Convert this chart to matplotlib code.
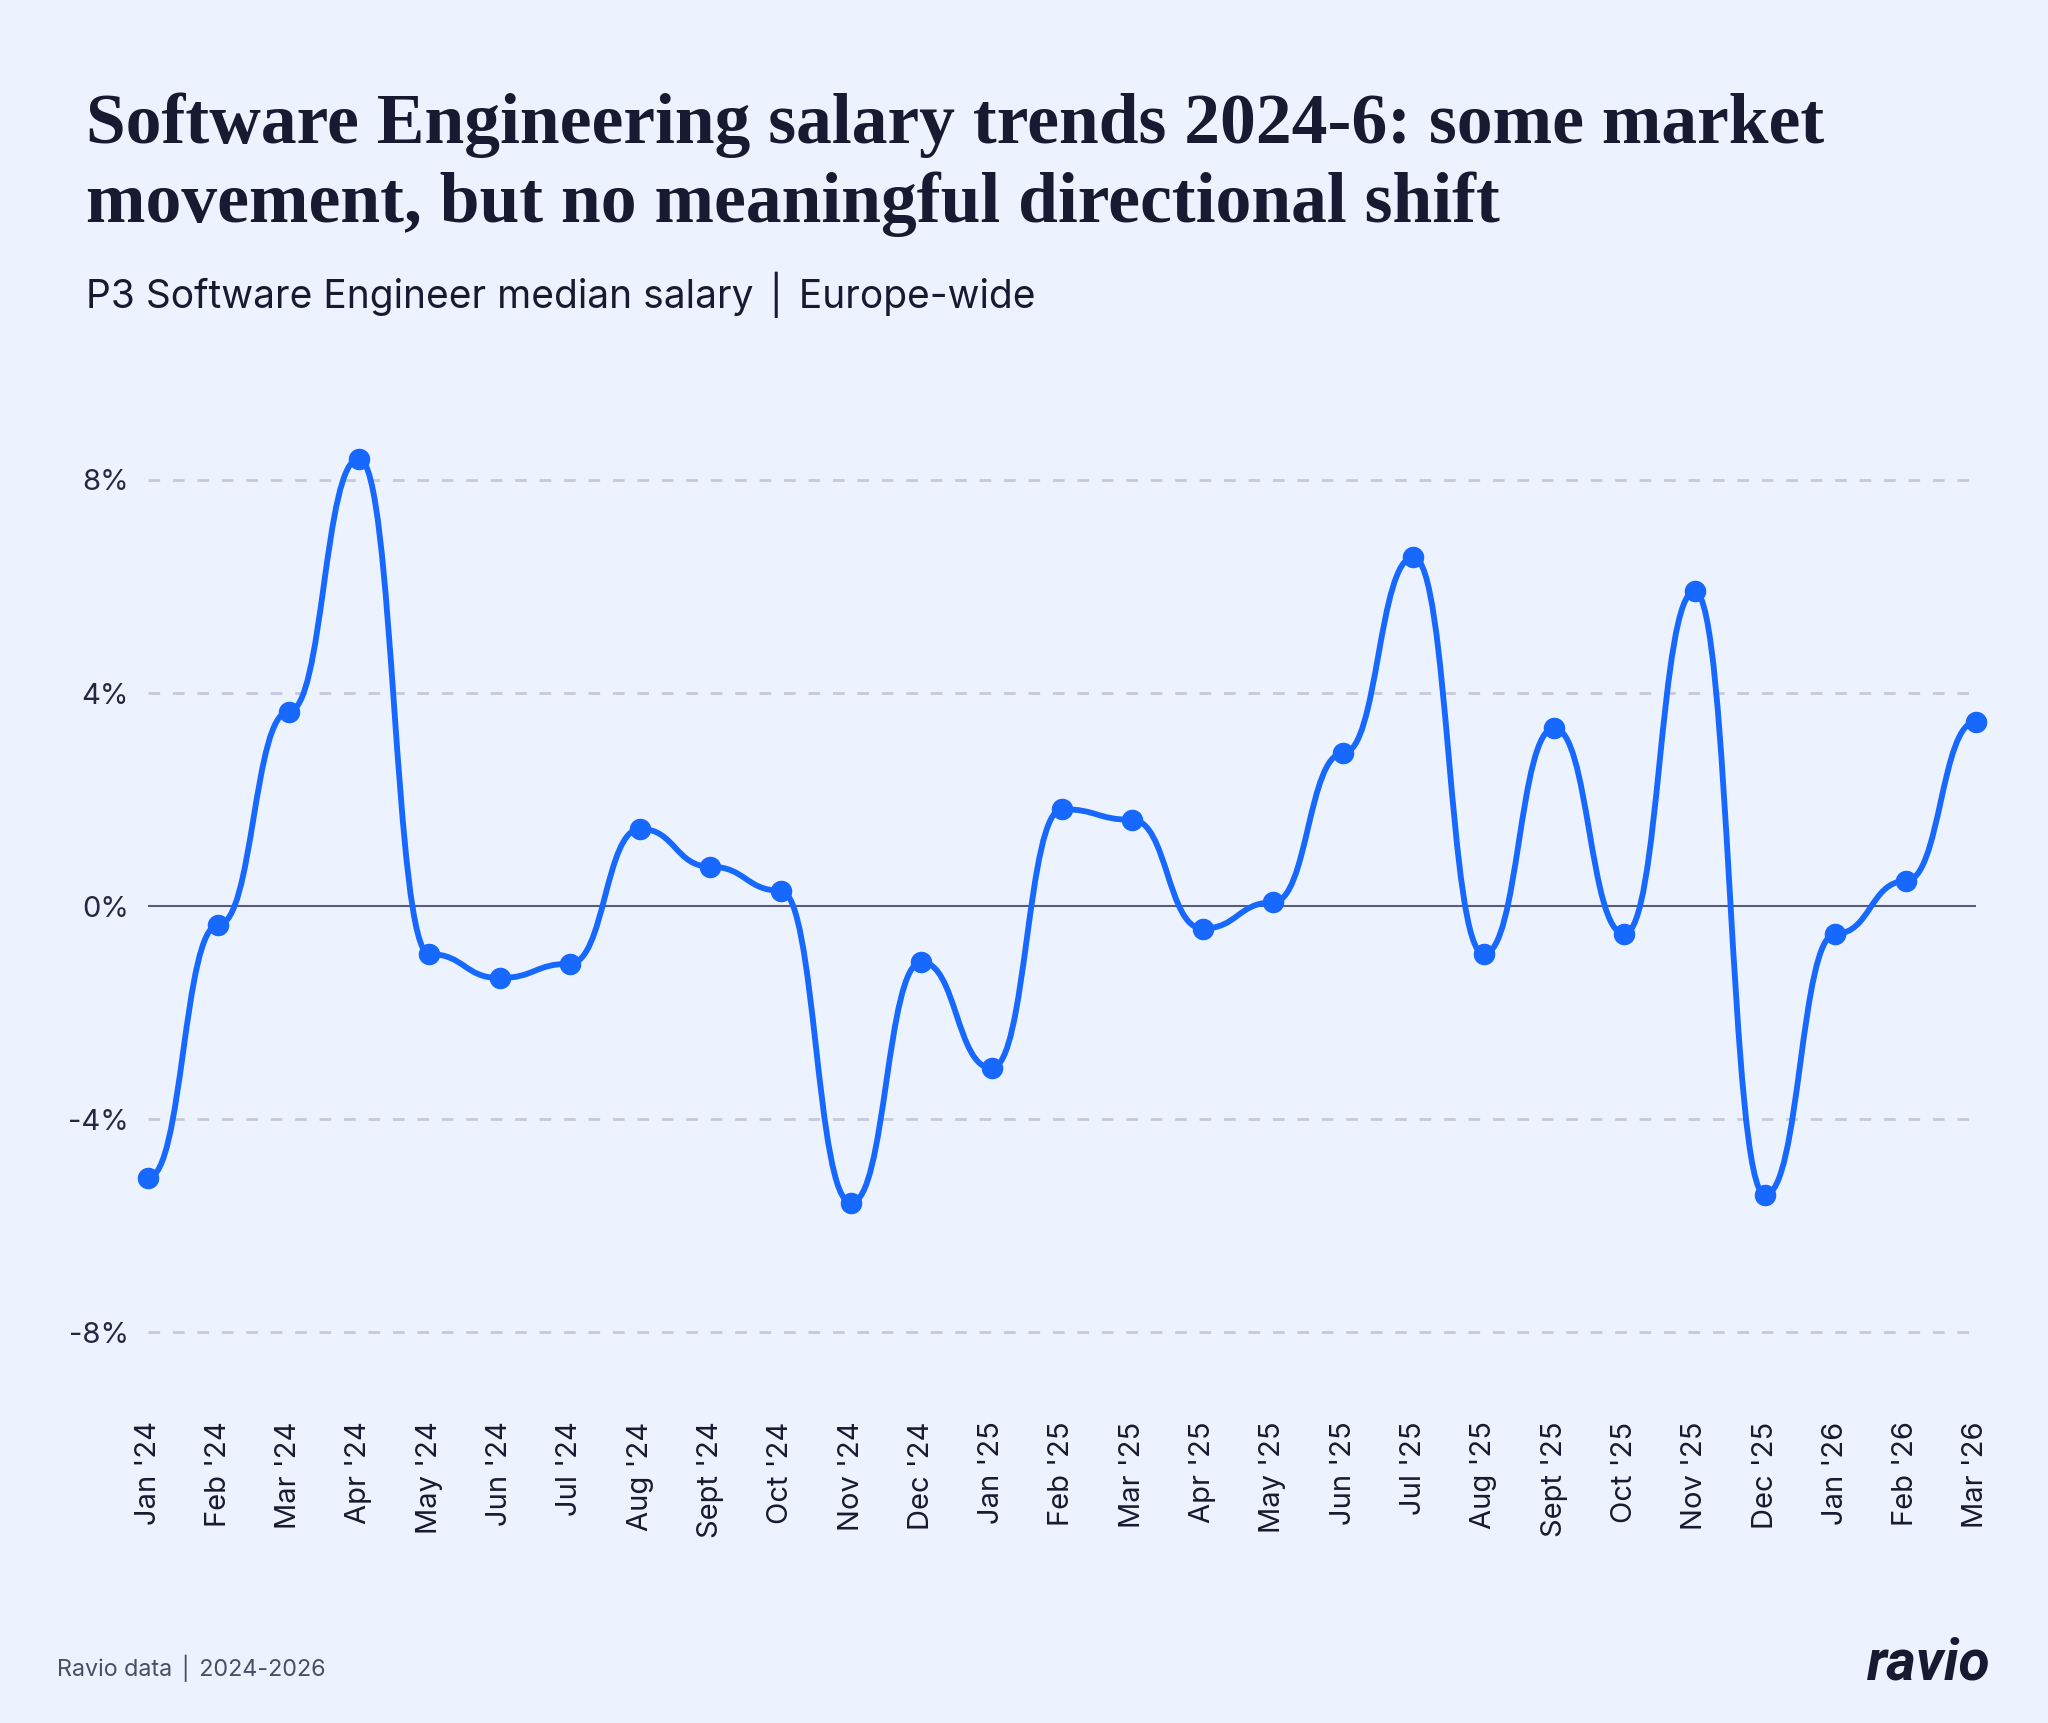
import numpy as np
import matplotlib
matplotlib.use('Agg')
import matplotlib.pyplot as plt
from matplotlib.path import Path
from matplotlib.patches import PathPatch

# Dados
meses = ["Jan '24", "Feb '24", "Mar '24", "Apr '24", "May '24", "Jun '24", "Jul '24",
         "Aug '24", "Sept '24", "Oct '24", "Nov '24", "Dec '24", "Jan '25", "Feb '25",
         "Mar '25", "Apr '25", "May '25", "Jun '25", "Jul '25", "Aug '25", "Sept '25",
         "Oct '25", "Nov '25", "Dec '25", "Jan '26", "Feb '26", "Mar '26"]
variacao = [-5.1, -0.35, 3.65, 8.4, -0.9, -1.35, -1.08, 1.45, 0.74, 0.29, -5.57,
            -1.05, -3.04, 1.82, 1.62, -0.42, 0.07, 2.87, 6.55, -0.9, 3.34, -0.52,
            5.91, -5.42, -0.52, 0.47, 3.46]
y_ticks = [-8, -4, 0, 4, 8]
y_tick_labels = ["-8%", "-4%", "0%", "4%", "8%"]

titulo_l1 = "Software Engineering salary trends 2024-6: some market"
titulo_l2 = "movement, but no meaningful directional shift"
subtitulo = "P3 Software Engineer median salary \u2502 Europe-wide"
rodape = "Ravio data \u2502 2024-2026"

FUNDO = '#edf3fe'
AZUL = '#1668ff'
TEXTO = '#171a30'
GRADE = '#c5c9d9'
SANS = ['Inter', 'DejaVu Sans']

x = np.arange(len(meses))

# linha suave: bezier com tangentes horizontais em cada ponto (tipo d3.curveBumpX)
verts = [(x[0], variacao[0])]
codes = [Path.MOVETO]
for i in range(len(x) - 1):
    xm = (x[i] + x[i + 1]) / 2
    verts += [(xm, variacao[i]), (xm, variacao[i + 1]), (x[i + 1], variacao[i + 1])]
    codes += [Path.CURVE4] * 3
caminho = Path(verts, codes)

fig = plt.figure(figsize=(20.48, 17.23), dpi=100, facecolor=FUNDO)
ax = fig.add_axes([0.0723, 0.2113, 0.8925, 0.5565], facecolor=FUNDO)

for v in y_ticks:
    if v == 0:
        ax.axhline(0, color='#585c7a', lw=1.5, zorder=1)
    else:
        ax.axhline(v, color=GRADE, lw=2, dashes=(4.2, 4.6), zorder=1)

ax.add_patch(PathPatch(caminho, facecolor='none', edgecolor=AZUL, lw=4.2,
                       zorder=3, clip_on=False, capstyle='round'))
ax.plot(x, variacao, 'o', color=AZUL, ms=14.5, zorder=4, clip_on=False)

ax.set_xlim(0, len(meses) - 1)
ax.set_ylim(-8.5, 9.5)
ax.set_yticks(y_ticks)
ax.set_yticklabels(y_tick_labels)
ax.set_xticks(x)
ax.set_xticklabels(meses, rotation=90, va='top', ha='center')
ax.tick_params(axis='y', length=0, pad=14, labelsize=21, labelcolor='#24273f')
ax.tick_params(axis='x', length=0, pad=45, labelsize=21, labelcolor=TEXTO)
for lab in ax.get_xticklabels() + ax.get_yticklabels():
    lab.set_family(SANS)
for sp in ax.spines.values():
    sp.set_visible(False)

fig.text(0.042, 0.917, titulo_l1, fontsize=51.5, fontweight='bold', family='Liberation Serif',
         color=TEXTO, va='baseline', ha='left')
fig.text(0.042, 0.871, titulo_l2, fontsize=51.5, fontweight='bold', family='Liberation Serif',
         color=TEXTO, va='baseline', ha='left')
fig.text(0.042, 0.829, subtitulo, fontsize=28, family=SANS, color=TEXTO, va='center', ha='left')
fig.text(0.028, 0.032, rodape, fontsize=16.8, family=SANS, color='#4a4e66', va='center', ha='left')
fig.text(0.972, 0.034, 'ravio', fontsize=41, fontweight='bold', style='italic', family='Roboto',
         color=TEXTO, va='center', ha='right')

fig.savefig('out.png', dpi=100, facecolor=FUNDO)
